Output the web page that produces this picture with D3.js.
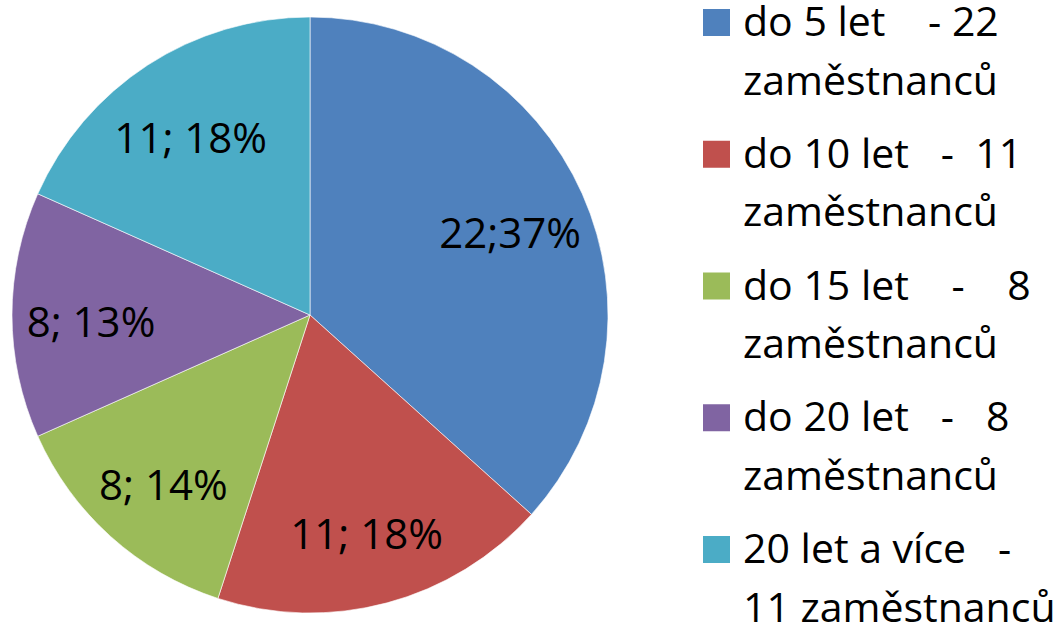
<!DOCTYPE html>
<html lang="cs">
<head>
    <meta charset="UTF-8">
    <script src="https://cdnjs.cloudflare.com/ajax/libs/d3/7.8.5/d3.min.js"></script>
    <title>Pie chart</title>
<style>
    body{
        margin: 0;
        background: white;
        font-family: 'Open Sans', 'Noto Sans', sans-serif;
    }
    svg text{
        white-space: pre;
        fill: black;
    }
</style>
</head>
<body>
    <svg></svg>
<script>
    const categories = ['do 5 let', 'do 10 let', 'do 15 let', 'do 20 let', '20 let a více']
    const values = [22, 11, 8, 8, 11]
    const sliceLabels = ['22;37%', '11; 18%', '8; 14%', '8; 13%', '11; 18%']
    const legendLines = [
        ['do 5 let    - 22', 'zaměstnanců'],
        ['do 10 let   -  11', 'zaměstnanců'],
        ['do 15 let    -    8', 'zaměstnanců'],
        ['do 20 let   -   8', 'zaměstnanců'],
        ['20 let a více   -', '11 zaměstnanců']
    ]
    const colors = ['#4F81BD', '#C0504D', '#9BBB59', '#8064A2', '#4BACC6']

    const w = 1062,
        h = 626
    const cx = 310,
        cy = 315,
        radius = 298

    const svg = d3.select('svg')
        .attr('width', w)
        .attr('height', h)

    const color = d3.scaleOrdinal()
        .domain(categories)
        .range(colors)

    const pie = d3.pie()
        .sort(null)
        .value((d) => d.value)

    const data = categories.map((c, i) => ({ cat: c, value: values[i], label: sliceLabels[i] }))
    const arcs = pie(data)

    const arc = d3.arc()
        .innerRadius(0)
        .outerRadius(radius)

    const labelArc = d3.arc()
        .innerRadius(219)
        .outerRadius(219)

    const g = svg.append('g')
        .attr('transform', 'translate(' + cx + ',' + cy + ')')

    // slices
    g.selectAll('path')
        .data(arcs)
        .enter()
        .append('path')
        .attr('d', arc)
        .attr('fill', (d) => color(d.data.cat))
        .attr('stroke', 'white')
        .attr('stroke-opacity', 0.6)
        .attr('stroke-width', 1)

    // slice labels (nudged a little down like the original)
    g.selectAll('text')
        .data(arcs)
        .enter()
        .append('text')
        .attr('transform', (d) => {
            const c = labelArc.centroid(d)
            return 'translate(' + c[0] + ',' + (c[1] + 7) + ')'
        })
        .attr('text-anchor', 'middle')
        .attr('dy', '0.36em')
        .style('font-size', '42px')
        .text((d) => d.data.label)

    // legend
    const legendY = d3.scalePoint()
        .domain(categories)
        .range([36, 563])

    const legend = svg.selectAll('.legend')
        .data(categories)
        .enter()
        .append('g')
        .attr('class', 'legend')
        .attr('transform', (d) => 'translate(703,' + legendY(d) + ')')

    legend.append('rect')
        .attr('x', 0)
        .attr('y', -27)
        .attr('width', 27)
        .attr('height', 27)
        .attr('fill', (d) => color(d))

    legend.each(function(d, i){
        const t = d3.select(this).append('text')
            .attr('x', 40)
            .style('font-size', '41px')
        t.selectAll('tspan')
            .data(legendLines[i])
            .enter()
            .append('tspan')
            .attr('x', 40)
            .attr('y', (l, j) => j * 58.5)
            .text((l) => l)
    })
</script>
</body>
</html>
